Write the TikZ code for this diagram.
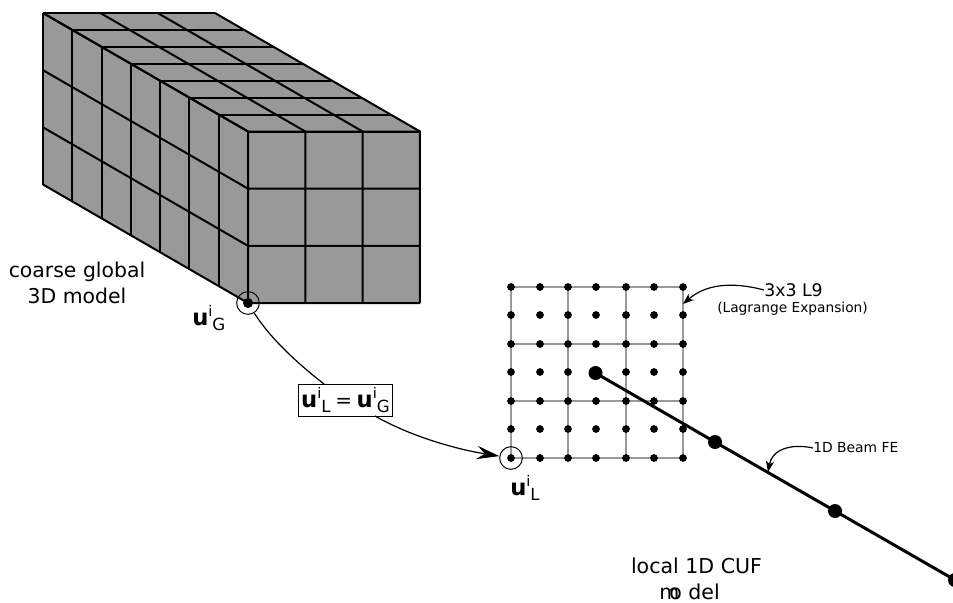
\documentclass[tikz,border=0pt]{standalone}
\usepackage{fontspec}
\setmainfont{DejaVu Sans}
\usetikzlibrary{arrows.meta}
\newcommand{\ulab}[1]{{\fontsize{17}{20}\selectfont\textbf{u}}\raisebox{7pt}{\fontsize{11}{12}\selectfont i}\raisebox{-4pt}{\fontsize{12.5}{14}\selectfont #1}}
\tikzset{
  px/.style={x=0.75pt,y=-0.75pt},
  mesh/.style={draw=black,line width=1.5pt,line join=round},
  face/.style={fill=black!40,draw=none},
  gridline/.style={draw=black!40,line width=1.6pt},
  gp/.style={circle,fill=black,inner sep=0pt,minimum size=5.8pt},
  bigp/.style={circle,fill=black,inner sep=0pt,minimum size=10.5pt},
  ring/.style={circle,draw=black,line width=0.75pt,inner sep=0pt,minimum size=17pt},
  conn/.style={draw=black,line width=0.9pt},
  tip/.style={-{Stealth[length=17pt,width=10pt,inset=6pt]}},
  smalltip/.style={-{Stealth[length=8pt,width=6pt,inset=2pt]}},
  lab/.style={inner sep=0pt,align=center,text=black},
}
\begin{document}
\begin{tikzpicture}[px]
\useasboundingbox (0,0) rectangle (953,603);
% solid
\fill[face] (43,13) -- (215,13) -- (420,131.5) -- (420,303) -- (248,303) -- (43,185) -- cycle;
\foreach \a in {0,1,...,7}{
  \draw[mesh] ({43+\a*29.286},{13+\a*16.93}) -- ({215+\a*29.286},{13+\a*16.93});
  \draw[mesh] ({43+\a*29.286},{13+\a*16.93}) -- ({43+\a*29.286},{185+\a*16.93});
}
\foreach \k in {0,1,2,3}{
  \draw[mesh] ({43+\k*57.33},13) -- ({248+\k*57.33},131.5) -- ({248+\k*57.33},303);
  \draw[mesh] (43,{13+\k*57.17}) -- (248,{131.5+\k*57.17}) -- (420,{131.5+\k*57.17});
}
% grid
\foreach \v in {511,568,626,683}{\draw[gridline] (\v,287) -- (\v,458);}
\foreach \v in {287,344,401,458}{\draw[gridline] (511,\v) -- (683,\v);}
\foreach \x in {511,540,568,596,626,654,683}
  \foreach \y in {287,315,344,372,401,429,458}
    {\node[gp] at (\x,\y) {};}
% beam
\node[bigp] (b1) at (595.5,373) {};
\node[bigp] (b2) at (715,442) {};
\node[bigp] (b3) at (835,511) {};
\node[bigp] (b4) at (955,580) {};
\draw[line width=2.25pt] (b1.center) -- (b2.center) -- (b3.center) -- (b4.center);
\coordinate (beamhit) at (768,472);
% points
\node[gp,minimum size=7.5pt] (pg) at (248,303) {};
\node[ring] (rg) at (248,303) {};
\node[ring] (rl) at (511,458) {};
% labels
\node[lab,font=\fontsize{15.3}{19.5}\selectfont] at (77,283) {coarse global\\3D model};
\node[lab,anchor=west] at (192,318) {\ulab{G}};
\node[lab,anchor=west] at (510,488) {\ulab{L}};
\node[draw=black,line width=0.75pt,fill=white,inner sep=0pt,minimum width=71pt,minimum height=24pt] (eq) at (345.5,400) {\ulab{L}\kern3.5pt{\fontsize{15}{16}\selectfont =}\kern3.5pt\ulab{G}};
\node[lab,anchor=west,font=\fontsize{13}{15}\selectfont] (l9) at (764,290) {3x3 L9};
\node[lab,font=\fontsize{10.3}{11}\selectfont] at (792.5,309) {(Lagrange Expansion)};
\node[lab,anchor=west,font=\fontsize{10.4}{11}\selectfont] (fe) at (813,448) {1D Beam FE};
\node[lab,font=\fontsize{15.4}{19}\selectfont] at (696.5,566) {local 1D CUF};
\node[lab,font=\fontsize{15.4}{19}\selectfont] at (689.5,592) {m\kern-7.5pt o del};
% connectors
\draw[conn] (rg) .. controls (270,338) and (297,363) .. (324,384);
\draw[conn,tip] (375,416) .. controls (410,436) and (455,449) .. (rl);
\draw[conn,smalltip] (l9.west) .. controls (730,281) and (705,285) .. (683,304);
\draw[conn,smalltip] (fe.west) .. controls (790,443) and (772,450) .. (beamhit);
\end{tikzpicture}
\end{document}
